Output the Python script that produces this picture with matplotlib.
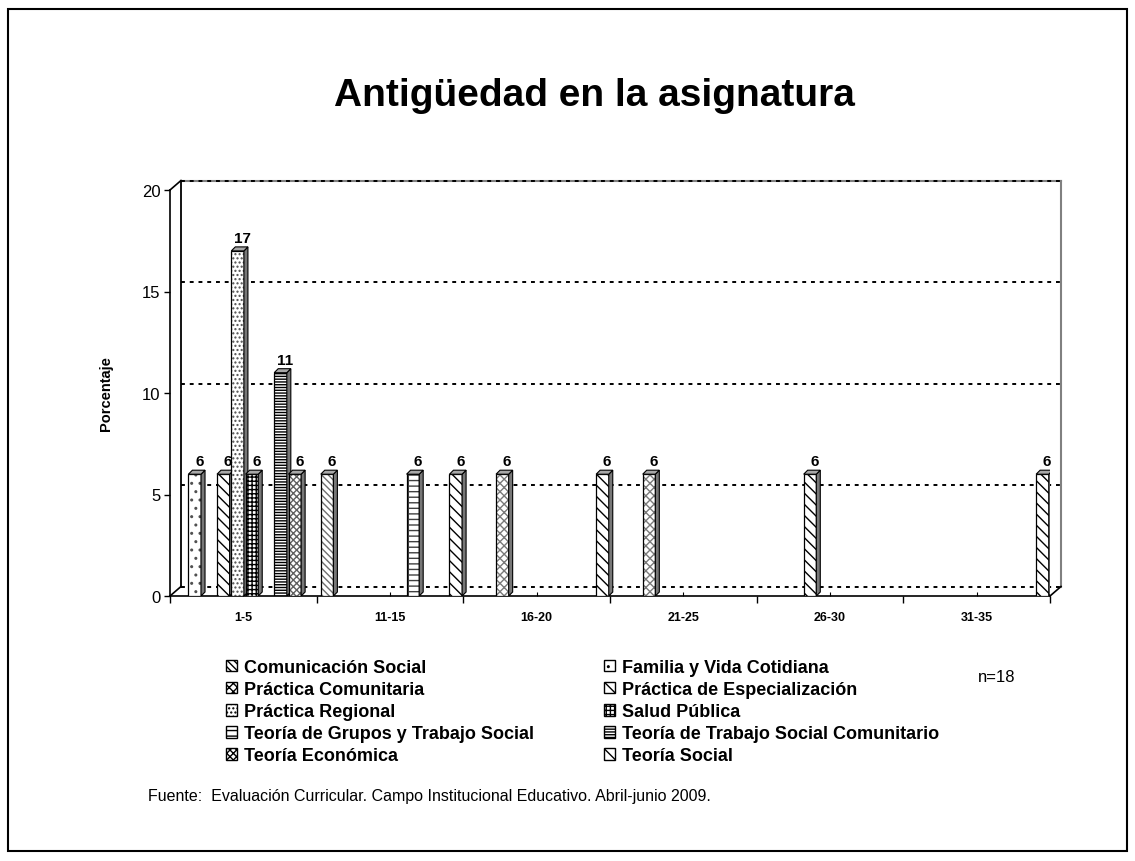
import matplotlib
matplotlib.use("Agg")
import matplotlib.pyplot as plt
from matplotlib.patches import Patch, Polygon, Rectangle

plt.rcParams['font.family'] = ['Liberation Sans', 'DejaVu Sans']
plt.rcParams['hatch.linewidth'] = 1.0

categories = ["1-5", "11-15", "16-20", "21-25", "26-30", "31-35"]
series_names = ["Comunicación Social", "Familia y Vida Cotidiana",
                "Práctica Comunitaria", "Práctica de Especialización",
                "Práctica Regional", "Salud Pública",
                "Teoría de Grupos y Trabajo Social",
                "Teoría de Trabajo Social Comunitario",
                "Teoría Económica", "Teoría Social"]
comunicacion_social = [0, 6, 0, 0, 0, 0]
familia_vida = [6, 0, 0, 0, 0, 0]
practica_comunitaria = [0, 0, 6, 6, 0, 0]
practica_especializacion = [6, 0, 0, 0, 6, 0]
practica_regional = [17, 0, 0, 0, 0, 0]
salud_publica = [6, 0, 0, 0, 0, 0]
teoria_grupos = [0, 6, 0, 0, 0, 0]
teoria_trabajo_comunitario = [11, 0, 0, 0, 0, 0]
teoria_economica = [6, 0, 0, 0, 0, 0]
teoria_social = [0, 6, 6, 0, 0, 6]
values = [comunicacion_social, familia_vida, practica_comunitaria,
          practica_especializacion, practica_regional, salud_publica,
          teoria_grupos, teoria_trabajo_comunitario, teoria_economica,
          teoria_social]
yticks = [0, 5, 10, 15, 20]

hatches = ['\\' * 5, '..', 'xxxx', '\\' * 3, '....', '++++', '---|', '------', 'xxxxx', '\\' * 3]
hatch_colors = ['#707070', '#505050', '#7a7a7a', 'black', '#505050', 'black', '#404040', 'black', '#606060', 'black']

W, H, DPI = 1135, 862, 100
fig = plt.figure(figsize=(W / DPI, H / DPI), dpi=DPI)
fig.patches.append(Rectangle((8 / W, 10 / H), 1119 / W, 842 / H, transform=fig.transFigure,
                             fill=False, edgecolor='black', linewidth=1.5))

# front plane of the pseudo-3d chart, pixels
L, R, B, T = 170, 1050, 597, 191
ax = fig.add_axes([L / W, 1 - B / H, (R - L) / W, (B - T) / H])
ax.set_xlim(0, len(categories))
ax.set_ylim(0, 20)
px_x = (R - L) / len(categories)
px_y = (B - T) / 20.0

# back wall
wx, wy = 11 / px_x, 9.5 / px_y
n = len(categories)
for yv in yticks:
    ax.plot([wx, n + wx], [yv + wy, yv + wy], color='black', ls=(0, (2, 2.5)), lw=1.4,
            zorder=1, clip_on=False)
ax.plot([wx, n + wx], [20 + wy, 20 + wy], color='#808080', lw=1.5, zorder=0.9, clip_on=False)
ax.plot([wx, wx], [wy, 20 + wy], color='black', lw=1.3, zorder=1, clip_on=False)
ax.plot([n + wx, n + wx], [wy, 20 + wy], color='#808080', lw=1.5, zorder=1, clip_on=False)
ax.plot([0, wx], [0, wy], color='black', lw=1.2, clip_on=False)
ax.plot([n, n + wx], [0, wy], color='black', lw=1.2, clip_on=False)
ax.plot([0, wx], [20, 20 + wy], color='black', lw=1.2, clip_on=False)

# bars
slot, first, bw = 0.0975, 0.028, 0.086
ddx, ddy = 4 / px_x, 4 / px_y
for i in range(n):
    for s, vals in enumerate(values):
        v = vals[i]
        if v == 0:
            continue
        x0 = i + first + s * slot
        ax.bar(x0, v, bw, align='edge', color='white', edgecolor=hatch_colors[s],
               hatch=hatches[s], linewidth=0, zorder=3)
        ax.bar(x0, v, bw, align='edge', fill=False, edgecolor='black', linewidth=0.9, zorder=3)
        ax.add_patch(Polygon([(x0 + bw, 0), (x0 + bw + ddx, ddy), (x0 + bw + ddx, v + ddy), (x0 + bw, v)],
                             closed=True, facecolor='#777777', edgecolor='black', lw=0.8, zorder=3))
        ax.add_patch(Polygon([(x0, v), (x0 + ddx, v + ddy), (x0 + bw + ddx, v + ddy), (x0 + bw, v)],
                             closed=True, facecolor='#a8a8a8', edgecolor='black', lw=0.8, zorder=3))
        ax.annotate(str(v), (x0 + bw / 2 + ddx, v + ddy), xytext=(0.5, 1.5), textcoords='offset points',
                    ha='center', va='bottom', fontsize=11, fontweight='bold', zorder=4)

for sp in ['top', 'right']:
    ax.spines[sp].set_visible(False)
for sp in ['left', 'bottom']:
    ax.spines[sp].set_linewidth(1.2)

ax.set_xticks([i + 0.5 for i in range(n)])
ax.set_xticklabels(categories, fontsize=9, fontweight='bold')
ax.set_xticks(range(n + 1), minor=True)
ax.tick_params(axis='x', which='major', length=3, direction='in', pad=11)
ax.tick_params(axis='x', which='minor', length=5, direction='out', width=1)
ax.set_yticks(yticks)
ax.set_yticklabels([str(t) for t in yticks], fontsize=12)
ax.tick_params(axis='y', length=4, width=1, pad=3)
ax.set_ylabel("Porcentaje", fontsize=10.5, fontweight='bold')
ax.yaxis.set_label_coords(-(L - 113) / (R - L), 0.5)

fig.text(594 / W, 1 - 96 / H, "Antigüedad en la asignatura", fontsize=28, fontweight='bold',
         ha='center', va='center')

handles = [Patch(facecolor='white', edgecolor='black', hatch=hatches[s], label=series_names[s])
           for s in range(len(series_names))]
leg_kw = dict(frameon=False, loc='upper left', borderpad=0, handlelength=0.6, handleheight=0.6,
              handletextpad=0.4, labelspacing=0.28, prop={'size': 13, 'weight': 'bold'})
fig.legend(handles=handles[0::2], bbox_to_anchor=(217 / W, 1 - 651 / H), **leg_kw)
fig.legend(handles=handles[1::2], bbox_to_anchor=(595 / W, 1 - 651 / H), **leg_kw)

fig.text(997 / W, 1 - 678 / H, "n=18", fontsize=12, ha='center', va='center')
fig.text(148 / W, 1 - 797 / H,
         "Fuente:  Evaluación Curricular. Campo Institucional Educativo. Abril-junio 2009.",
         fontsize=11.5, ha='left', va='center')

fig.savefig("out.png", dpi=DPI)
